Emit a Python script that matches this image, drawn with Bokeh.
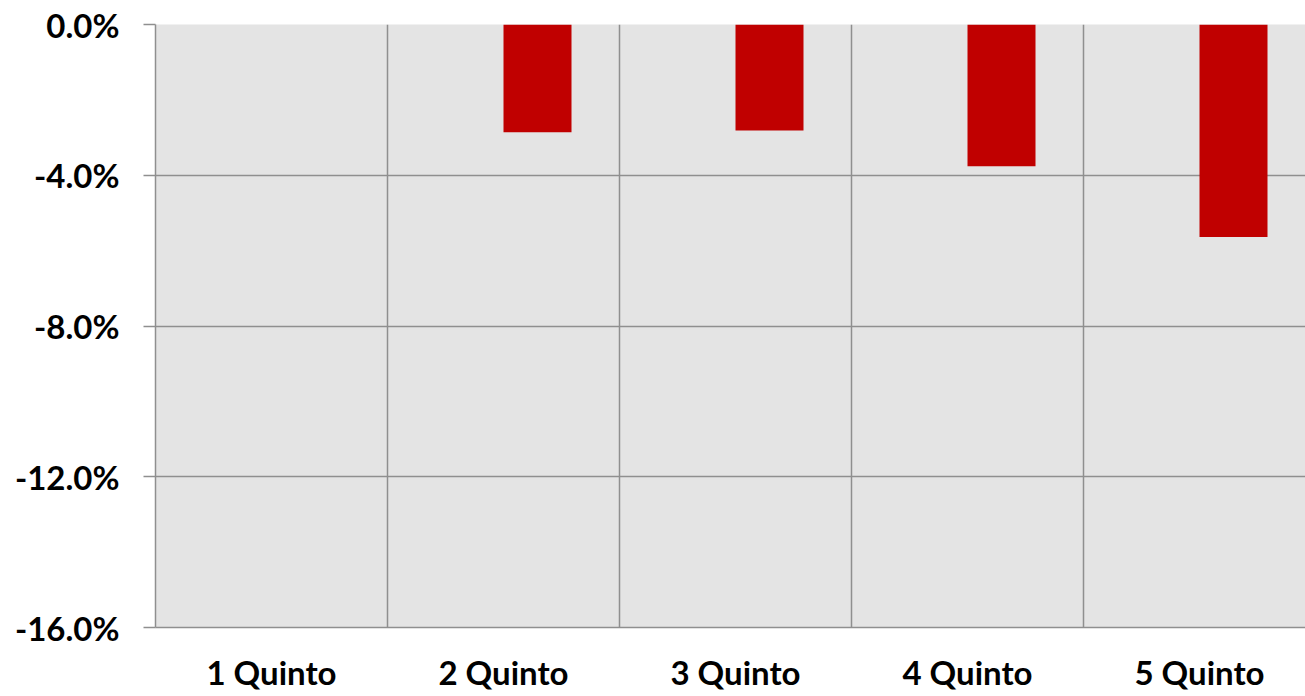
from bokeh.plotting import figure
from bokeh.models import ColumnDataSource, FixedTicker, NumeralTickFormatter, Range1d, Grid
from bokeh.embed import file_html
from bokeh.resources import INLINE

categories = ["1 Quinto", "2 Quinto", "3 Quinto", "4 Quinto", "5 Quinto"]
values = [0.0, -0.0286, -0.0281, -0.0376, -0.0564]
y_ticks = [-0.16, -0.12, -0.08, -0.04, 0.0]

centers = [i + 0.5 for i in range(len(categories))]
bar_w = 68 / 232
bar_x = [c + bar_w / 2 for c in centers]
src = ColumnDataSource(dict(x=bar_x, top=[0.0] * len(values), bottom=values))

GRAY = "#8f8f8f"
FONT = "Lato"
FS = "33px"

p = figure(width=1305, height=696, output_backend="svg", toolbar_location=None,
           x_range=Range1d(0, 1150 / 232), y_range=Range1d(-0.16, 0.0),
           min_border_left=155, min_border_top=24, min_border_right=0, min_border_bottom=69)
p.background_fill_color = "#e4e4e4"
p.border_fill_color = "white"
p.outline_line_color = None

p.vbar(x="x", width=bar_w, top="top", bottom="bottom", source=src,
       fill_color="#c00000", line_color=None)

# y axis
p.yaxis.ticker = FixedTicker(ticks=y_ticks)
p.yaxis.formatter = NumeralTickFormatter(format="0.0%")
p.yaxis.major_label_text_font = FONT
p.yaxis.major_label_text_font_style = "bold"
p.yaxis.major_label_text_font_size = FS
p.yaxis.major_label_text_color = "black"
p.yaxis.major_tick_out = 12
p.yaxis.major_tick_in = 0
p.yaxis.minor_tick_line_color = None
p.yaxis.major_tick_line_color = GRAY
p.yaxis.major_tick_line_width = 1.5
p.yaxis.axis_line_color = GRAY
p.yaxis.axis_line_width = 1.5
p.yaxis.major_label_standoff = 24

# x axis
p.xaxis.ticker = FixedTicker(ticks=centers)
p.xaxis.major_label_overrides = {c: lab for c, lab in zip(centers, categories)}
p.xaxis.major_label_text_font = FONT
p.xaxis.major_label_text_font_style = "bold"
p.xaxis.major_label_text_font_size = FS
p.xaxis.major_label_text_color = "black"
p.xaxis.major_tick_line_color = None
p.xaxis.minor_tick_line_color = None
p.xaxis.major_tick_out = 0
p.xaxis.major_tick_in = 0
p.xaxis.axis_line_color = GRAY
p.xaxis.axis_line_width = 1.5
p.xaxis.major_label_standoff = 24

# grids
p.xgrid.grid_line_color = None
p.ygrid.ticker = FixedTicker(ticks=y_ticks)
p.ygrid.grid_line_color = GRAY
p.ygrid.grid_line_width = 1.5
vgrid = Grid(dimension=0, ticker=FixedTicker(ticks=list(range(len(categories)))),
             grid_line_color=GRAY, grid_line_width=1.5)
p.add_layout(vgrid)

open("out.html", "w").write(file_html(p, INLINE))
